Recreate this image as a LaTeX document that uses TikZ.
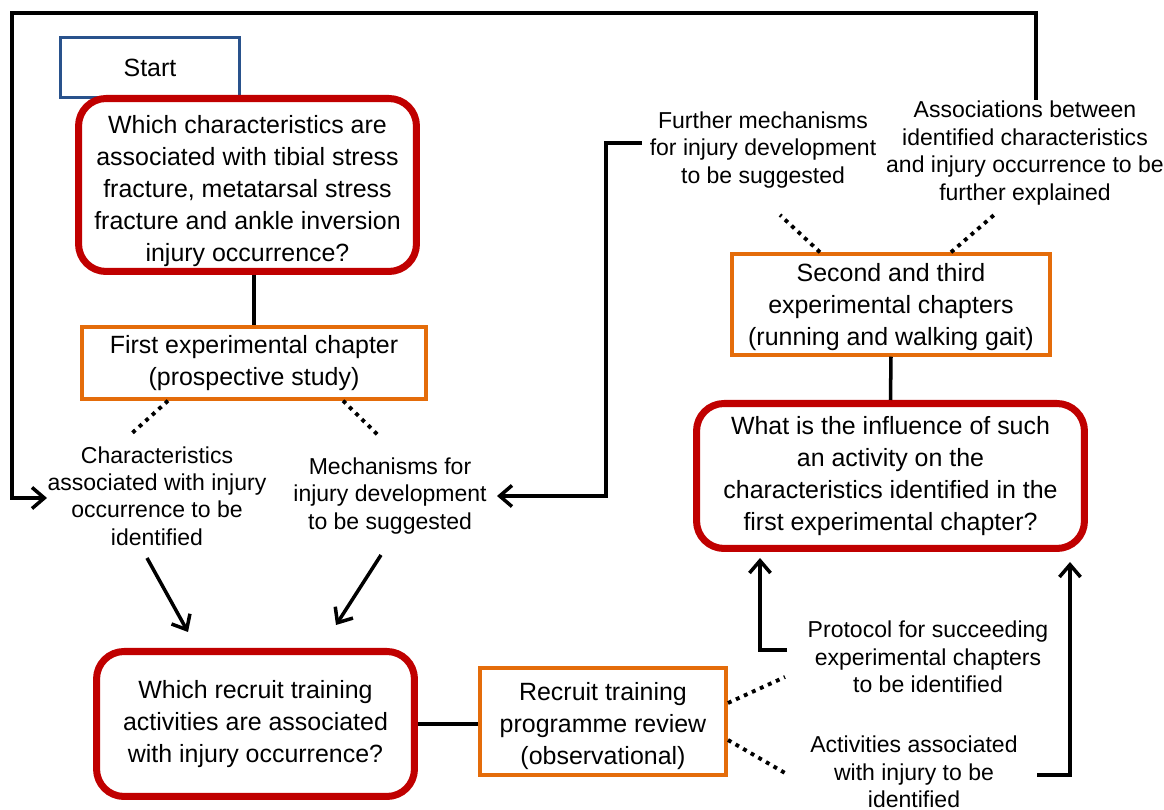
\documentclass[tikz,border=0pt]{standalone}
\usepackage{fontspec}
\setmainfont{Liberation Sans}
\usetikzlibrary{arrows.meta,calc}
\definecolor{boxred}{RGB}{192,0,0}
\definecolor{boxorange}{RGB}{228,108,10}
\definecolor{boxblue}{RGB}{41,82,140}
\tikzset{
 bigfont/.style={font=\fontsize{14.2}{18.2}\selectfont},
 smallfont/.style={font=\fontsize{13.1}{15.6}\selectfont},
 redbox/.style={draw=boxred, line width=4pt, rounded corners=0.55cm, fill=white, align=center, inner sep=0pt, bigfont},
 orangebox/.style={draw=boxorange, line width=2pt, fill=white, align=center, inner sep=0pt, bigfont},
 lbl/.style={align=center, inner sep=0pt, smallfont},
 conn/.style={line width=2pt, black},
 arr/.style={conn, -{Straight Barb[length=7pt,width=12pt]}},
 dots/.style={line width=2.2pt, dash pattern=on 2.2pt off 2.8pt},
}
\begin{document}
\begin{tikzpicture}[x=0.02cm,y=-0.02cm]
\useasboundingbox (0,0) rectangle (1164,810);
% boxes
\node[draw=boxblue, line width=1.5pt, minimum width=3.58cm, minimum height=1.2cm, inner sep=0pt, bigfont] (start) at (150,67.5) {Start};
\node[redbox, minimum width=6.76cm, minimum height=3.46cm] (q1) at (247.5,185)
 {\rule{0pt}{17pt}Which characteristics are\\associated with tibial stress\\fracture, metatarsal stress\\fracture and ankle inversion\\injury occurrence?};
\node[orangebox, minimum width=6.88cm, minimum height=1.44cm] (ch1) at (254,363)
 {First experimental chapter\\(prospective study)};
\node[lbl] (charid) at (157,496) {Characteristics\\associated with injury\\occurrence to be\\identified};
\node[lbl] (mech) at (390,496) {Mechanisms for\\injury development\\to be suggested};
\node[redbox, minimum width=6.36cm, minimum height=2.9cm] (q2) at (255.5,724)
 {Which recruit training\\activities are associated\\with injury occurrence?};
\node[orangebox, minimum width=4.93cm, minimum height=2.15cm] (rev) at (603,721.5)
 {\rule{0pt}{16pt}Recruit training\\programme review\\(observational)};
\node[lbl] (protocol) at (928,657) {Protocol for succeeding\\experimental chapters\\to be identified};
\node[lbl] (activ) at (914,772) {Activities associated\\with injury to be\\identified};
\node[redbox, minimum width=7.76cm, minimum height=2.9cm] (q3) at (890.5,476)
 {What is the influence of such\\an activity on the\\characteristics identified in the\\first experimental chapter?};
\node[orangebox, minimum width=6.36cm, minimum height=2.02cm] (ch23) at (891,304.5)
 {\rule{0pt}{13.5pt}Second and third\\experimental chapters\\(running and walking gait)};
\node[lbl] (further) at (763,150) {Further mechanisms\\for injury development\\to be suggested};
\node[lbl] (assoc) at (1025,153) {Associations between\\identified characteristics\\and injury occurrence to be\\further explained};
\coordinate (tl) at (12,13);
% solid links
\draw[conn] (q1.south -| ch1.north) -- (ch1.north);
\draw[conn] (ch23.south) -- (q3.north);
\draw[conn] (q2.east) -- (q2.east -| rev.west);
% dotted links
\draw[dots] ($(ch1.south)+(-86,0)$) -- ($(charid)+(-27,-61)$);
\draw[dots] ($(ch1.south)+(89,0)$) -- ($(mech)+(-10,-59)$);
\draw[dots] ($(ch23.north)+(-71,0)$) -- ($(further)+(17,65)$);
\draw[dots] ($(ch23.north)+(60,0)$) -- ($(assoc)+(-31,62)$);
\draw[dots] ($(rev.east)+(0,-18.5)$) -- ($(protocol)+(-143,20)$);
\draw[dots] ($(rev.east)+(0,18.5)$) -- ($(activ)+(-129,1)$);
% arrows
\draw[arr] ($(charid)+(-10,62)$) -- ($(q2.north)+(-67.5,-16)$);
\draw[arr] ($(mech)+(-9,59)$) -- ($(q2.north)+(80.5,-23)$);
\draw[arr] ($(assoc)+(11,-53)$) |- (tl) |- ($(charid)+(-110,2)$);
\draw[arr] ($(further)+(-121,-7)$) -- ++(-36,0) |- ($(mech)+(107,0)$);
\draw[arr] ($(protocol)+(-141,-7)$) -| ($(q3.south)+(-130.5,6)$);
\draw[arr] ($(activ)+(123,3)$) -| ($(q3.south)+(179.5,10)$);
\end{tikzpicture}
\end{document}
